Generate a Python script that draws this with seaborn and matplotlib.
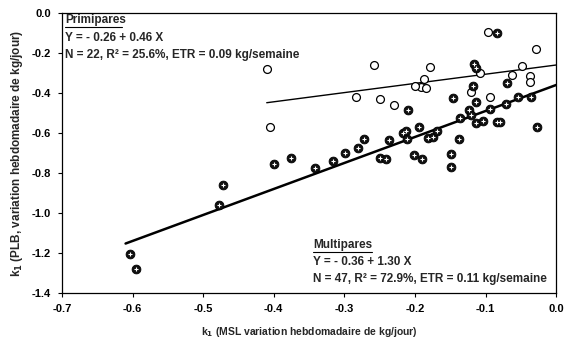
"""Scatter of k1 (PLB) vs k1 (MSL) for primiparous / multiparous cows with fitted lines."""
import matplotlib
matplotlib.use("Agg")
import matplotlib.pyplot as plt
import numpy as np
import pandas as pd
import seaborn as sns

# Primipares (open circles)
primi_x = [-0.410, -0.405, -0.258, -0.284, -0.250, -0.230, -0.179, -0.187, -0.191, -0.185,
           -0.108, -0.121, -0.094, -0.097, -0.028, -0.048, -0.063, -0.037, -0.037, -0.200]
primi_y = [-0.280, -0.570, -0.262, -0.420, -0.430, -0.460, -0.272, -0.330, -0.372, -0.377,
           -0.300, -0.393, -0.420, -0.093, -0.180, -0.263, -0.310, -0.315, -0.343, -0.365]

# Multipares (crossed circles)
multi_x = [-0.604, -0.595, -0.472, -0.478, -0.400, -0.376, -0.342, -0.316, -0.299, -0.281,
           -0.272, -0.249, -0.241, -0.237, -0.210, -0.217, -0.212, -0.211, -0.194, -0.181,
           -0.175, -0.169, -0.202, -0.190, -0.149, -0.149, -0.137, -0.136, -0.146, -0.123,
           -0.120, -0.114, -0.103, -0.113, -0.118, -0.117, -0.113, -0.084, -0.094, -0.071,
           -0.054, -0.035, -0.069, -0.084, -0.079, -0.027]
multi_y = [-1.205, -1.280, -0.860, -0.960, -0.755, -0.725, -0.773, -0.738, -0.700, -0.675,
           -0.630, -0.725, -0.732, -0.635, -0.485, -0.598, -0.588, -0.632, -0.572, -0.627,
           -0.620, -0.588, -0.710, -0.732, -0.707, -0.772, -0.632, -0.527, -0.425, -0.485,
           -0.510, -0.550, -0.540, -0.443, -0.365, -0.255, -0.275, -0.100, -0.480, -0.455,
           -0.420, -0.420, -0.348, -0.543, -0.543, -0.568]

# fitted equations  Y = a + b X
primi_a, primi_b = -0.26, 0.46
multi_a, multi_b = -0.36, 1.30
primi_line_start, multi_line_start = -0.41, -0.61

xticks = [-0.7, -0.6, -0.5, -0.4, -0.3, -0.2, -0.1, 0.0]
yticks = [0.0, -0.2, -0.4, -0.6, -0.8, -1.0, -1.2, -1.4]

sns.set_style("white")
plt.rcParams["font.family"] = ["Liberation Sans", "DejaVu Sans"]
plt.rcParams["font.weight"] = "bold"

fig = plt.figure(figsize=(5.64, 3.43), dpi=100)
ax = fig.add_axes([0.110, 0.146, 0.876, 0.816])

primi = pd.DataFrame({"x": primi_x, "y": primi_y})
multi = pd.DataFrame({"x": multi_x, "y": multi_y})

lx_p = np.linspace(primi_line_start, 0.0, 20)
lx_m = np.linspace(multi_line_start, 0.0, 20)
sns.lineplot(x=lx_p, y=primi_a + primi_b * lx_p, color="black", lw=1.0, ax=ax)
sns.lineplot(x=lx_m, y=multi_a + multi_b * lx_m, color="black", lw=1.8, ax=ax)

sns.scatterplot(data=primi, x="x", y="y", marker="o", s=32, facecolor="white",
                edgecolor="black", linewidth=0.9, ax=ax, zorder=3)
sns.scatterplot(data=multi, x="x", y="y", marker="o", s=40, color="#111111",
                edgecolor="black", linewidth=0.6, ax=ax, zorder=4)
sns.scatterplot(data=multi, x="x", y="y", marker="+", s=7, color="white",
                linewidth=0.8, ax=ax, zorder=5)

ax.set_xlim(-0.7, 0.0)
ax.set_ylim(-1.4, 0.0)
ax.set_xticks(xticks)
ax.set_yticks(yticks)
ax.set_xticklabels([f"{t:.1f}" for t in xticks])
ax.set_yticklabels([f"{t:.1f}" for t in yticks])
ax.tick_params(direction="out", length=3, width=0.8, labelsize=8, colors="black", pad=5,
               bottom=True, left=True)
for s in ax.spines.values():
    s.set_visible(True)
    s.set_color("black")
    s.set_linewidth(0.9)

ax.set_xlabel("k$_1$ (MSL variation hebdomadaire de kg/jour)", fontsize=7.5,
              fontweight="bold", labelpad=8)
ax.set_ylabel("k$_1$ (PLB, variation hebdomadaire de kg/jour)", fontsize=8.5,
              fontweight="bold", labelpad=5)

tk = dict(transform=ax.transAxes, fontsize=8.5, fontweight="bold", va="center", ha="left")
ax.text(0.006, 0.975, "Primipares", **tk)
ax.text(0.006, 0.912, "Y = - 0.26 + 0.46 X", **tk)
ax.text(0.006, 0.850, "N = 22, R² = 25.6%, ETR = 0.09 kg/semaine", **tk)
ax.text(0.508, 0.171, "Multipares", **tk)
ax.text(0.508, 0.111, "Y = - 0.36 + 1.30 X", **tk)
ax.text(0.508, 0.050, "N = 47, R² = 72.9%, ETR = 0.11 kg/semaine", **tk)
# underline the two group titles
ax.plot([0.006, 0.121], [0.950, 0.950], transform=ax.transAxes, color="black", lw=0.8)
ax.plot([0.508, 0.627], [0.146, 0.146], transform=ax.transAxes, color="black", lw=0.8)

fig.savefig("out.png", dpi=100)
